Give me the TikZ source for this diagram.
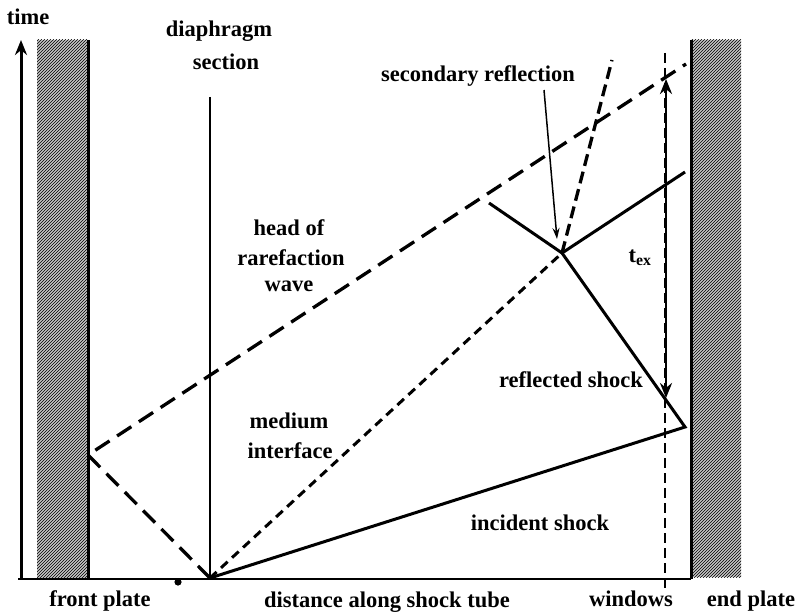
\documentclass[tikz,border=0pt]{standalone}
\usepackage{fontspec}
\setmainfont{Liberation Serif}
\usetikzlibrary{arrows.meta,patterns}
\begin{document}
\begin{tikzpicture}[x=1pt,y=-1pt,
  lbl/.style={font=\bfseries\fontsize{22.5}{26}\selectfont, anchor=base, inner sep=0pt},
  wall/.style={fill=gray!45},
  hatch/.style={pattern=north east lines, pattern color=black},
  solidln/.style={line width=3pt},
  rarefact/.style={line width=3.3pt, dash pattern=on 17pt off 9pt},
  interf/.style={line width=3pt, dash pattern=on 9pt off 6pt},
  secref/.style={line width=3.3pt, dash pattern=on 12pt off 6pt},
  winline/.style={line width=1.4pt, dash pattern=on 10pt off 5pt},
  axisarrow/.style={line width=3pt, -{Stealth[length=15pt,width=12pt]}},
  dblarrow/.style={line width=2.8pt, {Stealth[length=15pt,width=12pt]}-{Stealth[length=15pt,width=12pt]}},
  thinarrow/.style={line width=1.5pt, -{Stealth[length=11pt,width=7pt]}}]
\useasboundingbox (0,0) rectangle (799,615);
% walls
\fill[wall] (37,40) rectangle (88,578);
\fill[hatch] (37,40) rectangle (88,578);
\fill[wall] (691,40) rectangle (741,577);
\fill[hatch] (691,40) rectangle (741,577);
% coordinates
\coordinate (O) at (210,578);
\coordinate (FL) at (88,455);
\coordinate (RH) at (686,64);
\coordinate (X) at (562,253);
\coordinate (SR) at (612,60);
\coordinate (E) at (685,427);
\coordinate (RT) at (489,203);
\coordinate (TR) at (685,172);
\coordinate (AxB) at (21,579);
\coordinate (AxT) at (21,40);
\coordinate (BL) at (18,579);
\coordinate (BR) at (691,579);
\coordinate (LWt) at (88,40);
\coordinate (LWb) at (88,579);
\coordinate (RWt) at (691,40);
\coordinate (RWb) at (691,579);
\coordinate (Dt) at (210,97);
\coordinate (Wt) at (665,53);
\coordinate (Wb) at (665,590);
\coordinate (Tt) at (666,79);
\coordinate (Tb) at (666,398);
\coordinate (Ar1) at (544,90);
\coordinate (Ar2) at (557,239);
% wall edges and baseline
\draw[line width=3pt] (LWt) -- (LWb);
\draw[line width=3pt] (RWt) -- (RWb);
\draw[line width=2.6pt] (BL) -- (BR);
\draw[axisarrow] (AxB) -- (AxT);
% diaphragm
\draw[line width=2pt] (Dt) -- (O);
\fill (178,582) circle (3.6pt);
% waves
\draw[rarefact] (O) -- (FL) -- (RH);
\draw[interf] (O) -- (X);
\draw[secref] (X) -- (SR);
\draw[solidln] (O) -- (E) -- (X) -- (RT);
\draw[solidln] (X) -- (TR);
% windows and t_ex
\draw[winline] (Wt) -- (Wb);
\draw[dblarrow] (Tb) -- (Tt);
\draw[thinarrow] (Ar1) -- (Ar2);
% labels
\node[lbl] (time) at (28,25) {time};
\node[lbl] (dia) at (219,37) {diaphragm};
\node[lbl] (sec) at (226,70) {section};
\node[lbl] (secr) at (478,82) {secondary reflection};
\node[lbl] (h1) at (289,235) {head of};
\node[lbl] (h2) at (291,265) {rarefaction};
\node[lbl] (h3) at (289,291) {wave};
\node[lbl] (m1) at (289,428) {medium};
\node[lbl] (m2) at (290,458) {interface};
\node[lbl] (refl) at (571,387) {reflected shock};
\node[lbl] (inc) at (540,530) {incident shock};
\node[lbl] (tex) at (640,262) {t$_{\mathbf{ex}}$};
\node[lbl] (fp) at (100,606) {front plate};
\node[lbl] (dist) at (387,607) {distance along shock tube};
\node[lbl] (win) at (631,606) {windows};
\node[lbl] (ep) at (751,606) {end plate};
\end{tikzpicture}
\end{document}
